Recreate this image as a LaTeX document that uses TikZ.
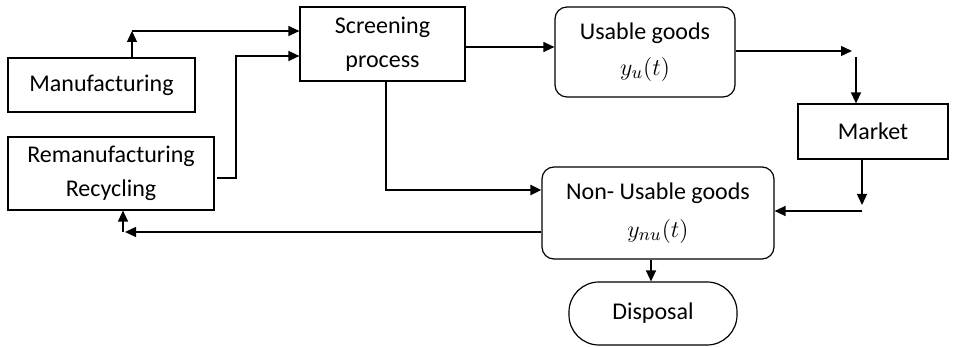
\documentclass[tikz,border=0pt]{standalone}
\usepackage{fontspec}
\setmainfont{Carlito}
\usetikzlibrary{arrows.meta}
\begin{document}
\begin{tikzpicture}[x=0.5pt,y=-0.5pt,
  font=\fontsize{12}{17}\selectfont,
  box/.style={draw,line width=0.6pt,align=center,inner sep=0pt},
  rbox/.style={box,rounded corners=6pt},
  conn/.style={line width=0.7pt,-{Triangle[length=5.5pt,width=5pt]}},
  mth/.style={font=\fontsize{13}{17}\selectfont}]
\useasboundingbox (0,0) rectangle (955,347);
\node[box,minimum width=93.5pt,minimum height=27pt] (manuf) at (101.5,85) {Manufacturing};
\node[box,minimum width=103pt,minimum height=36.5pt] (reman) at (111,173.5) {Remanufacturing\\Recycling};
\node[box,minimum width=82.5pt,minimum height=37pt] (screen) at (382.5,44) {Screening\\process};
\node[rbox,minimum width=90pt,minimum height=45pt] (usable) at (645,52) {Usable goods\\[1pt]{\fontsize{13}{17}\selectfont$y_u\bigl(t\bigr)$}};
\node[box,minimum width=75pt,minimum height=27.5pt] (market) at (873,131.5) {Market};
\node[rbox,minimum width=116pt,minimum height=46pt] (nonu) at (658,213) {Non- Usable goods\\[2pt]{\fontsize{13}{17}\selectfont$y_{nu}\bigl(t\bigr)$}};
\node[box,rounded corners=15pt,minimum width=84pt,minimum height=31.5pt] (disp) at (653,313.5) {Disposal};
% Manufacturing -> Screening
\coordinate (c1) at (132,31);
\draw[conn] (manuf.north -| c1) -- (c1);
\draw[conn] (c1) -- (c1 -| screen.west);
% Remanufacturing -> Screening
\coordinate (r1) at (217,178);
\coordinate (c2) at (236,56);
\draw[conn] (r1) -| (c2) -- (c2 -| screen.west);
% Screening -> Usable
\coordinate (s0) at (0,47);
\draw[conn] (screen.east |- s0) -- (usable.west |- s0);
% Usable -> Market
\coordinate (m1) at (852,51);
\draw[conn] (usable.east |- m1) -- (m1);
\coordinate (m0) at (856,57);
\draw[conn] (m0) -- (m0 |- market.north);
% Market -> Non-usable
\coordinate (m2) at (862,205);
\coordinate (m3) at (862,211);
\draw[conn] (m2 |- market.south) -- (m2);
\draw[conn] (m3) -- (m3 -| nonu.east);
% Screening -> Non-usable
\coordinate (s1) at (386,190);
\draw[conn,line width=1.2pt] (screen.south -| s1) -- (s1) -- (s1 -| nonu.west);
% Non-usable -> Remanufacturing
\coordinate (n1) at (123,232);
\coordinate (n2) at (125,232);
\draw[conn] (nonu.west |- n1) -- (n2);
\draw[conn] (n1) -- (n1 |- reman.south);
% Non-usable -> Disposal
\coordinate (d1) at (651,0);
\draw[conn] (nonu.south -| d1) -- (disp.north -| d1);
\end{tikzpicture}
\end{document}
